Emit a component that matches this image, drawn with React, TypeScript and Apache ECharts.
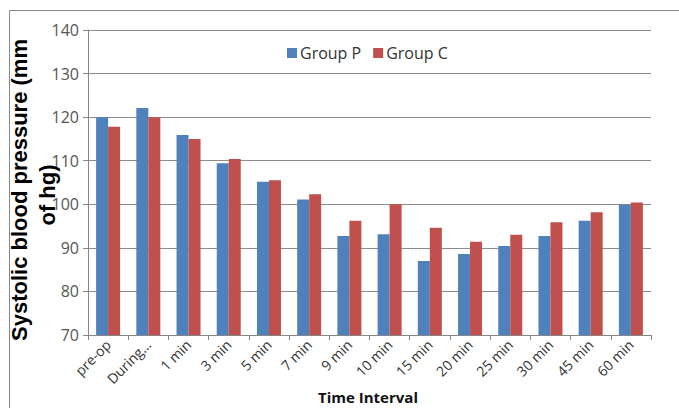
import React, { useEffect, useRef } from "react";
import * as echarts from "echarts";

const categories = ["pre-op", "During...", "1 min", "3 min", "5 min", "7 min", "9 min", "10 min", "15 min", "20 min", "25 min", "30 min", "45 min", "60 min"];
const groupP = [120, 122.1, 115.9, 109.4, 105.2, 101.1, 92.7, 93.1, 87.0, 88.6, 90.4, 92.7, 96.2, 99.9];
const groupC = [117.8, 120, 115, 110.4, 105.5, 102.3, 96.2, 100.0, 94.6, 91.4, 93.0, 95.9, 98.2, 100.4];
const xTitle = "Time Interval";
const yTitleLines = ["Systolic blood pressure (mm", "of hg)"];

export default function App() {
  const ref = useRef<HTMLDivElement>(null);
  useEffect(() => {
    if (!ref.current) return;
    const chart = echarts.init(ref.current, undefined, { renderer: "svg" });
    chart.setOption({
      animation: false,
      backgroundColor: "#ffffff",
      grid: { left: 88, right: 28, top: 30, bottom: 73, containLabel: false, outerBoundsMode: "none" },
      legend: {
        data: ["Group P", "Group C"],
        top: 40,
        left: 282,
        itemWidth: 10,
        itemHeight: 10,
        itemGap: 12,
        icon: "rect",
        textStyle: { fontFamily: "Open Sans", fontSize: 16, color: "#333333", padding: [0, 0, 0, -2] },
      },
      xAxis: {
        type: "category",
        data: categories,
        axisLine: { lineStyle: { color: "#868686", width: 1 } },
        axisTick: { show: true, alignWithLabel: false, length: 5, lineStyle: { color: "#868686" } },
        axisLabel: { rotate: 45, margin: 7, fontFamily: "Open Sans", fontSize: 14, color: "#333333", interval: 0 },
      },
      yAxis: {
        type: "value",
        min: 70,
        max: 140,
        interval: 10,
        axisLine: { show: true, lineStyle: { color: "#868686", width: 1 } },
        axisTick: { show: true, inside: false, length: 5, lineStyle: { color: "#868686" } },
        splitLine: { lineStyle: { color: "#8c8c8c", width: 1 } },
        axisLabel: { fontFamily: "Open Sans", fontSize: 16, color: "#555555", margin: 9 },
      },
      graphic: [
        {
          type: "rect",
          shape: { x: 9.5, y: 10.5, width: 700, height: 420 },
          style: { fill: "none", stroke: "#888888", lineWidth: 1 },
          silent: true,
        },
        {
          type: "text",
          x: 368,
          y: 397,
          style: {
            text: xTitle,
            fontFamily: "Open Sans",
            fontWeight: "bold",
            fontSize: 15,
            fill: "#111111",
            align: "center",
            verticalAlign: "middle",
          },
        },
        {
          type: "text",
          x: 19,
          y: 190,
          rotation: Math.PI / 2,
          style: {
            text: yTitleLines[0],
            fontFamily: "Liberation Sans",
            fontWeight: "bold",
            fontSize: 22,
            fill: "#000000",
            align: "center",
            verticalAlign: "middle",
          },
        },
        {
          type: "text",
          x: 47,
          y: 195,
          rotation: Math.PI / 2,
          style: {
            text: yTitleLines[1],
            fontFamily: "Liberation Sans",
            fontWeight: "bold",
            fontSize: 22,
            fill: "#000000",
            align: "center",
            verticalAlign: "middle",
          },
        },
      ],
      series: [
        {
          name: "Group P",
          type: "bar",
          data: groupP,
          barWidth: 12,
          barGap: "0%",
          itemStyle: { color: "#4F81BD" },
        },
        {
          name: "Group C",
          type: "bar",
          data: groupC,
          barWidth: 12,
          barGap: "0%",
          itemStyle: { color: "#C0504D" },
        },
      ],
    });
    return () => chart.dispose();
  }, []);
  return <div ref={ref} style={{ width: 679, height: 408, position: "absolute", left: 0, top: 0 }} />;
}
